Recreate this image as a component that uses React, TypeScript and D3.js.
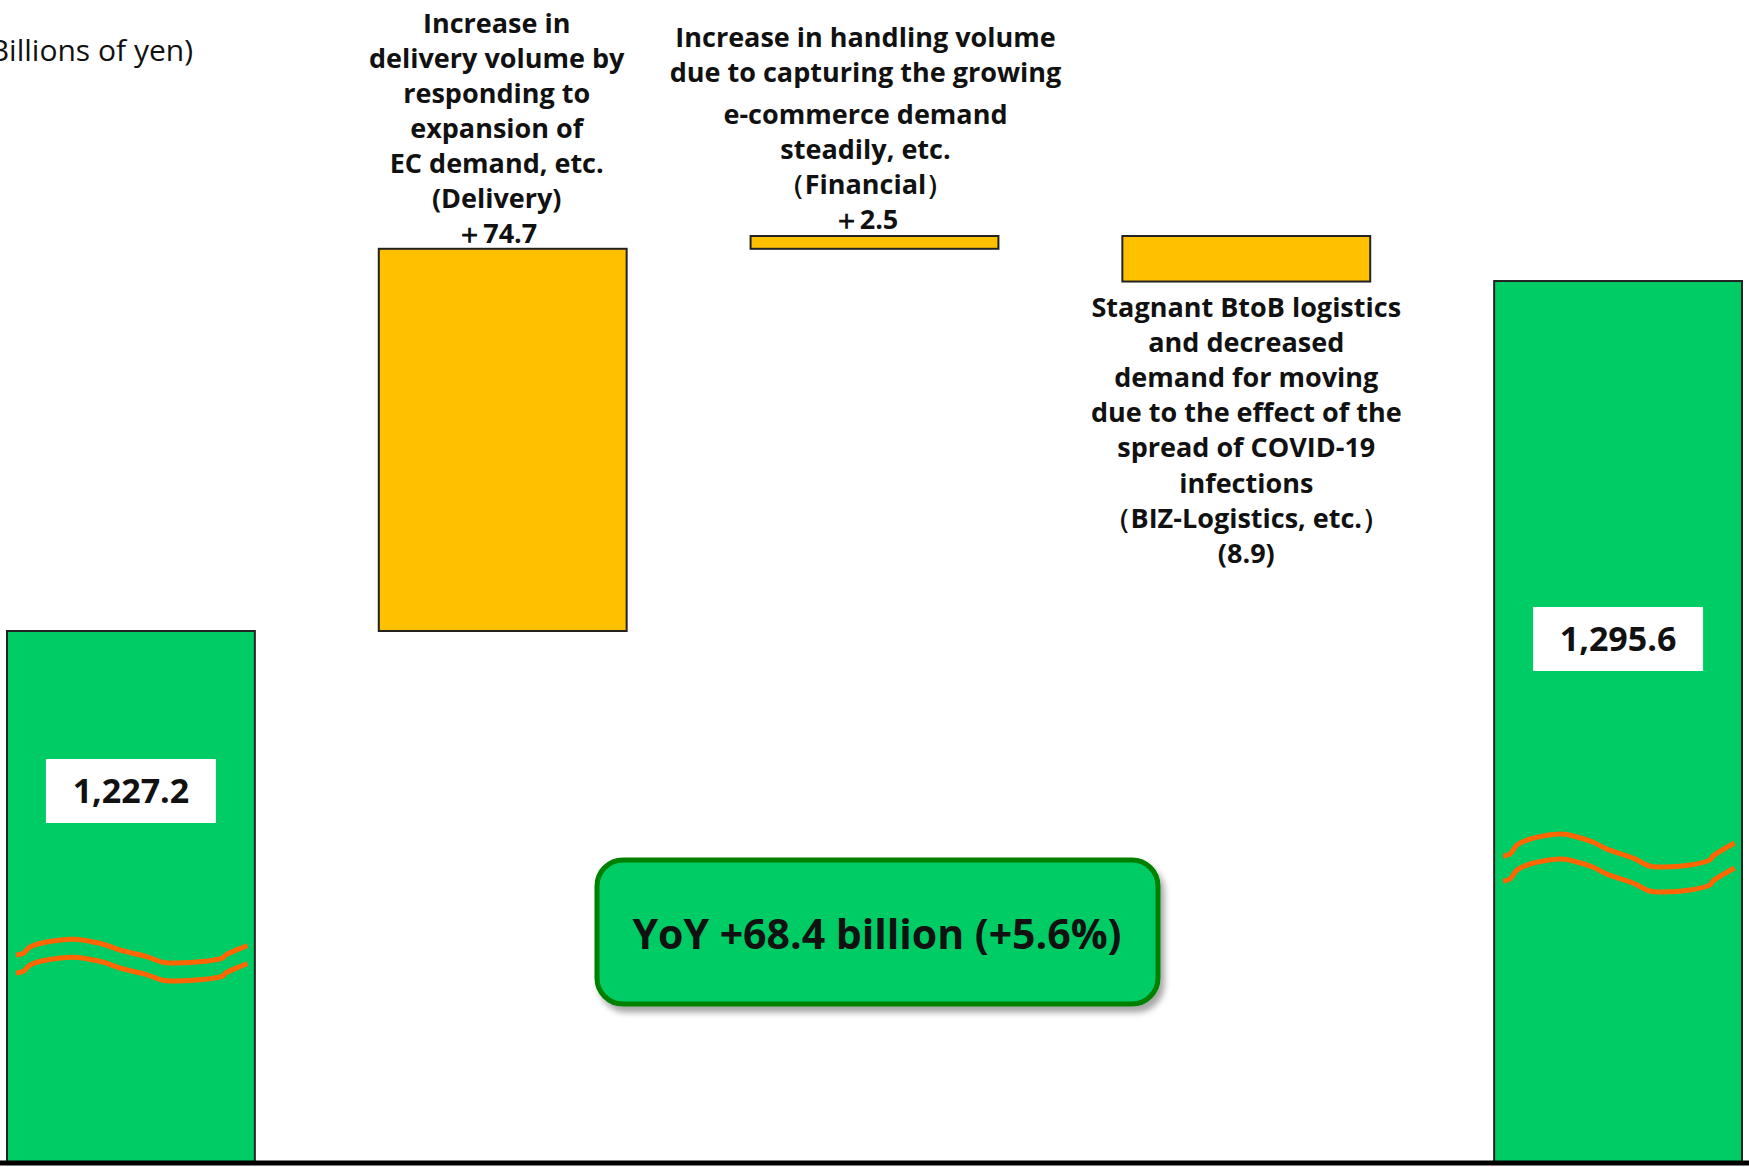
import React from "react";
import * as d3 from "d3";

// ---------- data ----------
const categories = ["FY2019", "Delivery", "Financial", "BIZ-Logistics", "FY2020"];
const startValue = 1227.2;
const changeValues = [74.7, 2.5, -8.9];
const endValue = 1295.6;
const totalLabels = ["1,227.2", "1,295.6"];
const changeTexts = [
  ["Increase in", "delivery volume by", "responding to", "expansion of", "EC demand, etc.", "(Delivery)", "＋74.7"],
  ["Increase in handling volume", "due to capturing the growing", "e-commerce demand", "steadily, etc.", "（Financial）", "＋2.5"],
  ["Stagnant BtoB logistics", "and decreased", "demand for moving", "due to the effect of the", "spread of COVID-19", "infections", "（BIZ-Logistics, etc.）", "(8.9)"],
];
const unitLabel = "(Billions of yen)";
const summaryLabel = "YoY +68.4 billion (+5.6%)";

// ---------- layout ----------
const W = 1749;
const H = 1167;
const AXIS_Y = 1163;
const FONT = "'Open Sans', 'Noto Sans', sans-serif";
const GREEN = "#00CC66";
const YELLOW = "#FFC000";
const ORANGE = "#FF6600";

// text baselines relative to the top of each change bar
const textOffsets = [
  [-216, -181, -146, -111, -76, -41, -6],
  [-189, -154, -112, -77, -42, -7],
  [81, 116, 151, 186, 221, 257, 292, 327],
];
// break mark shape: x as fraction of bar width, y offset in px
const waveShape: [number, number][] = [
  [0.036, 0], [0.064, -2], [0.092, -11], [0.145, -17], [0.274, -22], [0.334, -19],
  [0.398, -14], [0.454, -7], [0.56, 2], [0.627, 10], [0.668, 11], [0.79, 9],
  [0.87, 4], [0.883, 0], [0.97, -13],
];

export default function App() {
  const x = d3.scaleBand<string>().domain(categories).range([7, 1742]).paddingInner(1 / 3).paddingOuter(0);
  const bw = x.bandwidth();
  const y = d3.scaleLinear().domain([startValue, startValue + changeValues[0] + changeValues[1]]).range([631, 236]);

  // waterfall steps
  let cum = startValue;
  const steps = changeValues.map((v, i) => {
    const from = cum;
    cum += v;
    return { cat: categories[i + 1], from, to: cum, v };
  });

  const totals = [
    { cat: categories[0], value: startValue, label: totalLabels[0], boxY: 759, waveY: 955, amp: 0.72, gap: 18 },
    { cat: categories[4], value: endValue, label: totalLabels[1], boxY: 607, waveY: 856, amp: 1.0, gap: 25 },
  ];

  const wave = d3.line<[number, number]>().x((d) => d[0]).y((d) => d[1]).curve(d3.curveCatmullRom.alpha(0.5));

  return (
    <svg width={W} height={H} style={{ position: "absolute", left: 0, top: 0, background: "#fff" }}>
      <defs>
        <filter id="shadow" x="-10%" y="-20%" width="130%" height="150%">
          <feDropShadow dx="4" dy="6" stdDeviation="3" floodColor="#000" floodOpacity="0.35" />
        </filter>
      </defs>
      <rect x={0} y={0} width={W} height={H} fill="#fff" />

      {/* unit label */}
      <text x={193} y={61} textAnchor="end" fontFamily={FONT} fontSize={30} fill="#111">
        {unitLabel}
      </text>

      {/* total bars */}
      {totals.map((t, i) => {
        const x0 = x(t.cat)!;
        const top = y(t.value);
        const pts1 = waveShape.map(([fx, dy]) => [x0 + fx * bw, t.waveY + dy * t.amp] as [number, number]);
        const pts2 = pts1.map(([px, py]) => [px, py + t.gap] as [number, number]);
        return (
          <g key={"t" + i}>
            <rect x={x0} y={top} width={bw} height={AXIS_Y - top} fill={GREEN} stroke="#222" strokeWidth={2} />
            <path d={wave(pts1)!} fill="none" stroke={ORANGE} strokeWidth={5} />
            <path d={wave(pts2)!} fill="none" stroke={ORANGE} strokeWidth={5} />
            <rect x={x0 + bw / 2 - 85} y={t.boxY} width={170} height={64} fill="#fff" />
            <text x={x0 + bw / 2} y={t.boxY + 44} textAnchor="middle" fontFamily={FONT} fontWeight={700} fontSize={34} fill="#111">
              {t.label}
            </text>
          </g>
        );
      })}

      {/* change bars */}
      {steps.map((s, i) => {
        const x0 = x(s.cat)!;
        const yTop = Math.min(y(s.from), y(s.to));
        const yBot = Math.max(y(s.from), y(s.to));
        const barTop = y(Math.max(s.from, s.to));
        return (
          <g key={"s" + i}>
            <rect x={x0} y={yTop} width={bw} height={yBot - yTop} fill={YELLOW} stroke="#222" strokeWidth={2} />
            {changeTexts[i].map((line, j) => (
              <text
                key={j}
                x={x0 + bw / 2 - (i === 0 ? 6 : i === 1 ? 9 : 0)}
                y={barTop + textOffsets[i][j]}
                textAnchor="middle"
                fontFamily={FONT}
                fontWeight={700}
                fontSize={27}
                fill="#111"
              >
                {line}
              </text>
            ))}
          </g>
        );
      })}

      {/* summary box */}
      <g filter="url(#shadow)">
        <rect x={597} y={860} width={561} height={144} rx={26} ry={26} fill={GREEN} stroke="#008000" strokeWidth={5} />
      </g>
      <text x={877} y={949} textAnchor="middle" fontFamily={FONT} fontWeight={700} fontSize={41} fill="#111">
        {summaryLabel}
      </text>

      {/* axis line */}
      <line x1={0} x2={W} y1={AXIS_Y} y2={AXIS_Y} stroke="#000" strokeWidth={5} />
    </svg>
  );
}
